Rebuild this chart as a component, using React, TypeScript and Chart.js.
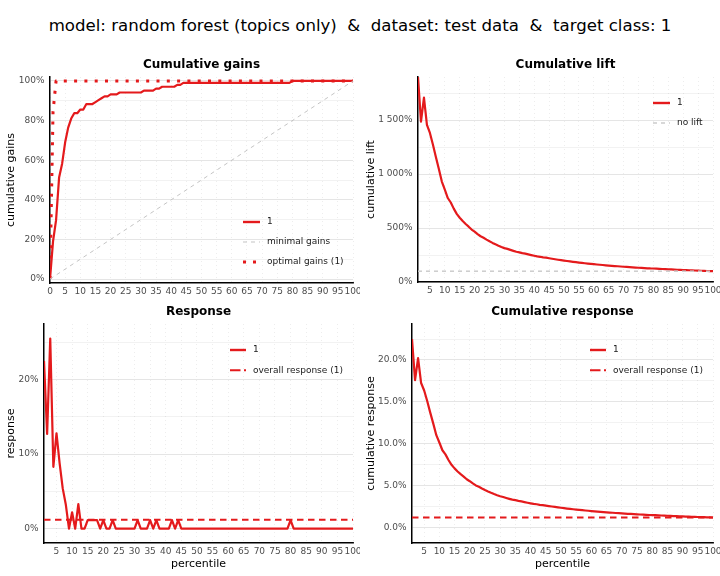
import React, { useEffect, useRef } from "react";
import { Chart, registerables } from "chart.js";

Chart.register(...registerables);

// ---------- data ----------
const percentiles = [
  1, 2, 3, 4, 5, 6, 7, 8, 9, 10,
  11, 12, 13, 14, 15, 16, 17, 18, 19, 20,
  21, 22, 23, 24, 25, 26, 27, 28, 29, 30,
  31, 32, 33, 34, 35, 36, 37, 38, 39, 40,
  41, 42, 43, 44, 45, 46, 47, 48, 49, 50,
  51, 52, 53, 54, 55, 56, 57, 58, 59, 60,
  61, 62, 63, 64, 65, 66, 67, 68, 69, 70,
  71, 72, 73, 74, 75, 76, 77, 78, 79, 80,
  81, 82, 83, 84, 85, 86, 87, 88, 89, 90,
  91, 92, 93, 94, 95, 96, 97, 98, 99, 100,
];

// response (% of target class 1) per percentile
const responsePct = [
  22.5, 12.7, 25.5, 8.3, 12.8, 8.8, 5.4, 3.2, 0, 2.2,
  0, 3.3, 0, 0, 1.15, 1.15, 1.15, 1.15, 0, 1.15,
  0, 0, 1.15, 0, 0, 0, 0, 0, 0, 0,
  1.15, 0, 0, 0, 1.15, 0, 1.15, 0, 0, 0,
  0, 1.15, 0, 1.15, 0, 0, 0, 0, 0, 0,
  0, 0, 0, 0, 0, 0, 0, 0, 0, 0,
  0, 0, 0, 0, 0, 0, 0, 0, 0, 0,
  0, 0, 0, 0, 0, 0, 0, 0, 0, 1.15,
  0, 0, 0, 0, 0, 0, 0, 0, 0, 0,
  0, 0, 0, 0, 0, 0, 0, 0, 0, 0,
];

const optimalGainsX = [0, 1, 2, 100];
const optimalGainsY = [0, 84.5, 100, 100];
const minimalGainsX = [0, 100];
const minimalGainsY = [0, 100];
const noLiftX = [1, 100];
const noLiftY = [100, 100];

const gainsXTicks = [0, 5, 10, 15, 20, 25, 30, 35, 40, 45, 50, 55, 60, 65, 70, 75, 80, 85, 90, 95, 100];
const pctXTicks = [5, 10, 15, 20, 25, 30, 35, 40, 45, 50, 55, 60, 65, 70, 75, 80, 85, 90, 95, 100];

const gainsYMajor = [0, 20, 40, 60, 80, 100];
const gainsYMinor = [10, 30, 50, 70, 90];
const liftYMajor = [0, 500, 1000, 1500];
const liftYMinor = [250, 750, 1250, 1750];
const respYMajor = [0, 10, 20];
const respYMinor = [5, 15, 25];
const cumRespYMajor = [0, 5, 10, 15, 20];
const cumRespYMinor = [2.5, 7.5, 12.5, 17.5, 22.5];

// ---------- derived series (cumulative statistics of the response) ----------
const responseTotal = responsePct.reduce((a, b) => a + b, 0);
const overallResponse = responseTotal / responsePct.length;
const cumulativeResponse: number[] = [];
const cumulativeGains: number[] = [0];
{
  let run = 0;
  responsePct.forEach((v, i) => {
    run += v;
    cumulativeResponse.push(run / (i + 1));
    cumulativeGains.push((run / responseTotal) * 100);
  });
}
const cumulativeLift = cumulativeResponse.map((v) => (v / overallResponse) * 100);
const gainsX = [0, ...percentiles];

// ---------- styling ----------
const RED = "#e41a1c";
const FONT = '"DejaVu Sans", sans-serif';
const pts = (xs: number[], ys: number[]) => xs.map((x, i) => ({ x, y: ys[i] }));

const panelTitlePlugin = {
  id: "panelTitle",
  afterDraw(chart: any, _a: any, opts: any) {
    if (!opts || !opts.text) return;
    const { ctx, chartArea } = chart;
    ctx.save();
    ctx.font = `bold 12px ${FONT}`;
    ctx.fillStyle = "#000";
    ctx.textAlign = "center";
    ctx.textBaseline = "middle";
    ctx.fillText(opts.text, (chartArea.left + chartArea.right) / 2, opts.y);
    ctx.restore();
  },
};

const panelLegendPlugin = {
  id: "panelLegend",
  afterDraw(chart: any, _a: any, opts: any) {
    if (!opts || !opts.items) return;
    const ctx = chart.ctx;
    opts.items.forEach((it: any, i: number) => {
      const y = opts.y + i * opts.gap;
      ctx.save();
      ctx.strokeStyle = it.color;
      ctx.lineWidth = it.width;
      ctx.setLineDash(it.dash || []);
      ctx.lineCap = "butt";
      ctx.beginPath();
      ctx.moveTo(opts.x0, y);
      ctx.lineTo(opts.x1, y);
      ctx.stroke();
      ctx.setLineDash([]);
      ctx.fillStyle = "#1a1a1a";
      ctx.font = `9px ${FONT}`;
      ctx.textAlign = "left";
      ctx.textBaseline = "middle";
      ctx.fillText(it.text, opts.tx, y);
      ctx.restore();
    });
  },
};

type Panel = {
  left: number;
  top: number;
  w: number;
  h: number;
  area: { left: number; top: number; right: number; bottom: number };
  title: string;
  titleY: number;
  yTitle: string;
  xTitle?: string;
  xMin: number;
  xMax: number;
  yMin: number;
  yMax: number;
  xTicks: number[];
  yMajor: number[];
  yMinor: number[];
  yFormat: (v: number) => string;
  datasets: any[];
  legend: any;
};

const solid = (data: any[]) => ({
  data,
  borderColor: RED,
  borderWidth: 2.2,
  pointRadius: 0,
  tension: 0,
  fill: false,
  borderJoinStyle: "round",
});

const panels: Panel[] = [
  {
    left: 0, top: 50, w: 360, h: 250,
    area: { left: 50, top: 27, right: 353, bottom: 233 },
    title: "Cumulative gains", titleY: 15,
    yTitle: "cumulative gains",
    xMin: 0, xMax: 100, yMin: -2, yMax: 102,
    xTicks: gainsXTicks, yMajor: gainsYMajor, yMinor: gainsYMinor,
    yFormat: (v) => `${v}%`,
    datasets: [
      { ...solid(pts(minimalGainsX, minimalGainsY)), borderColor: "#c4c4c4", borderWidth: 1, borderDash: [4, 4] },
      solid(pts(gainsX, cumulativeGains)),
      { ...solid(pts(optimalGainsX, optimalGainsY)), borderWidth: 3, borderDash: [3, 7.3], borderCapStyle: "butt" },
    ],
    legend: {
      x0: 243, x1: 260, tx: 267, y: 172, gap: 20,
      items: [
        { text: "1", color: RED, width: 2.4 },
        { text: "minimal gains", color: "#c4c4c4", width: 1, dash: [4, 4] },
        { text: "optimal gains (1)", color: RED, width: 3, dash: [3, 7] },
      ],
    },
  },
  {
    left: 360, top: 50, w: 360, h: 250,
    area: { left: 58, top: 27, right: 353, bottom: 232 },
    title: "Cumulative lift", titleY: 15,
    yTitle: "cumulative lift",
    xMin: 1, xMax: 100, yMin: 0, yMax: Math.max(...cumulativeLift),
    xTicks: pctXTicks, yMajor: liftYMajor, yMinor: liftYMinor,
    yFormat: (v) => `${v >= 1000 ? Math.floor(v / 1000) + " " + String(v % 1000).padStart(3, "0") : v}%`,
    datasets: [
      { ...solid(pts(noLiftX, noLiftY)), borderColor: "#cccccc", borderWidth: 1.5, borderDash: [4, 4] },
      solid(pts(percentiles, cumulativeLift)),
    ],
    legend: {
      x0: 293, x1: 310, tx: 317, y: 53, gap: 20,
      items: [
        { text: "1", color: RED, width: 2.4 },
        { text: "no lift", color: "#cccccc", width: 1.5, dash: [4, 4] },
      ],
    },
  },
  {
    left: 0, top: 300, w: 360, h: 276,
    area: { left: 44, top: 24, right: 353, bottom: 243 },
    title: "Response", titleY: 11.7,
    yTitle: "response", xTitle: "percentile",
    xMin: 1, xMax: 100, yMin: -1.92, yMax: 27.45,
    xTicks: pctXTicks, yMajor: respYMajor, yMinor: respYMinor,
    yFormat: (v) => `${v}%`,
    datasets: [
      { ...solid(pts(noLiftX, [overallResponse, overallResponse])), borderWidth: 2, borderDash: [6.5, 4.5] },
      solid(pts(percentiles, responsePct)),
    ],
    legend: {
      x0: 230, x1: 246, tx: 253, y: 50, gap: 20.3,
      items: [
        { text: "1", color: RED, width: 2.4 },
        { text: "overall response (1)", color: RED, width: 2, dash: [10.5, 3.5] },
      ],
    },
  },
  {
    left: 360, top: 300, w: 360, h: 276,
    area: { left: 52, top: 24, right: 353, bottom: 243 },
    title: "Cumulative response", titleY: 11.7,
    yTitle: "cumulative response", xTitle: "percentile",
    xMin: 1, xMax: 100, yMin: -1.86, yMax: 24.3,
    xTicks: pctXTicks, yMajor: cumRespYMajor, yMinor: cumRespYMinor,
    yFormat: (v) => `${v.toFixed(1)}%`,
    datasets: [
      { ...solid(pts(noLiftX, [overallResponse, overallResponse])), borderWidth: 2, borderDash: [6.5, 4.5] },
      solid(pts(percentiles, cumulativeResponse)),
    ],
    legend: {
      x0: 230, x1: 246, tx: 253, y: 50, gap: 20.3,
      items: [
        { text: "1", color: RED, width: 2.4 },
        { text: "overall response (1)", color: RED, width: 2, dash: [10.5, 3.5] },
      ],
    },
  },
];

function ChartPanel({ p }: { p: Panel }) {
  const ref = useRef<HTMLCanvasElement | null>(null);
  useEffect(() => {
    if (!ref.current) return;
    const majorSet = new Set(p.yMajor);
    const yTicks = [...p.yMajor, ...p.yMinor].sort((a, b) => a - b);
    const tickFont = { family: FONT, size: 9 };
    const chart = new Chart(ref.current, {
      type: "line",
      data: { datasets: p.datasets },
      plugins: [panelTitlePlugin as any, panelLegendPlugin as any],
      options: {
        responsive: false,
        animation: false,
        layout: { padding: { left: 0, top: p.area.top, right: p.w - p.area.right, bottom: 0 } },
        plugins: {
          legend: { display: false },
          tooltip: { enabled: false },
          title: { display: false },
          panelTitle: { text: p.title, y: p.titleY },
          panelLegend: p.legend,
        } as any,
        scales: {
          x: {
            type: "linear",
            min: p.xMin,
            max: p.xMax,
            afterBuildTicks: (s: any) => {
              s.ticks = p.xTicks.map((v) => ({ value: v }));
            },
            afterFit: (s: any) => {
              s.height = p.h - p.area.bottom;
              s.paddingLeft = 0;
              s.paddingRight = 0;
            },
            ticks: {
              autoSkip: false,
              maxRotation: 0,
              padding: 3.5,
              font: tickFont,
              color: "#4d4d4d",
              callback: (v: any) => String(v),
            },
            grid: { drawTicks: false, color: "rgba(0,0,0,0.09)", lineWidth: 0.8 },
            border: { display: true, color: "#000", width: 1.5, dash: [1, 3] },
            title: p.xTitle
              ? { display: true, text: p.xTitle, color: "#000", font: { family: FONT, size: 11 }, padding: { top: 0, bottom: 5 } }
              : { display: false },
          },
          y: {
            type: "linear",
            min: p.yMin,
            max: p.yMax,
            afterBuildTicks: (s: any) => {
              s.ticks = yTicks.map((v) => ({ value: v }));
            },
            afterFit: (s: any) => {
              s.width = p.area.left;
              s.paddingTop = 0;
              s.paddingBottom = 0;
            },
            ticks: {
              autoSkip: false,
              padding: 5.5,
              font: tickFont,
              color: "#4d4d4d",
              callback: (v: any) => (majorSet.has(v) ? p.yFormat(v) : ""),
            },
            grid: {
              drawTicks: false,
              color: (c: any) => (majorSet.has(c.tick?.value) ? "rgba(0,0,0,0.1)" : "rgba(0,0,0,0.05)"),
              lineWidth: 1,
            },
            border: { display: true, color: "#000", width: 1.5 },
            title: { display: true, text: p.yTitle, color: "#000", font: { family: FONT, size: 11 }, padding: { top: 4.8, bottom: 0 } },
          },
        },
      } as any,
    });
    return () => chart.destroy();
  }, [p]);
  return (
    <canvas
      ref={ref}
      width={p.w}
      height={p.h}
      style={{ position: "absolute", left: p.left, top: p.top, width: p.w, height: p.h }}
    />
  );
}

export default function App() {
  return (
    <div style={{ position: "absolute", left: 0, top: 0, width: 720, height: 576, background: "#fff" }}>
      <div
        style={{
          position: "absolute",
          left: 0,
          top: 0,
          width: 720,
          height: 50,
          display: "flex",
          alignItems: "center",
          justifyContent: "center",
          fontFamily: '"DejaVu Sans", sans-serif',
          fontSize: 16.6,
          color: "#000",
          whiteSpace: "pre",
        }}
      >
        {"model: random forest (topics only)  &  dataset: test data  &  target class: 1"}
      </div>
      {panels.map((p, i) => (
        <ChartPanel key={i} p={p} />
      ))}
    </div>
  );
}
